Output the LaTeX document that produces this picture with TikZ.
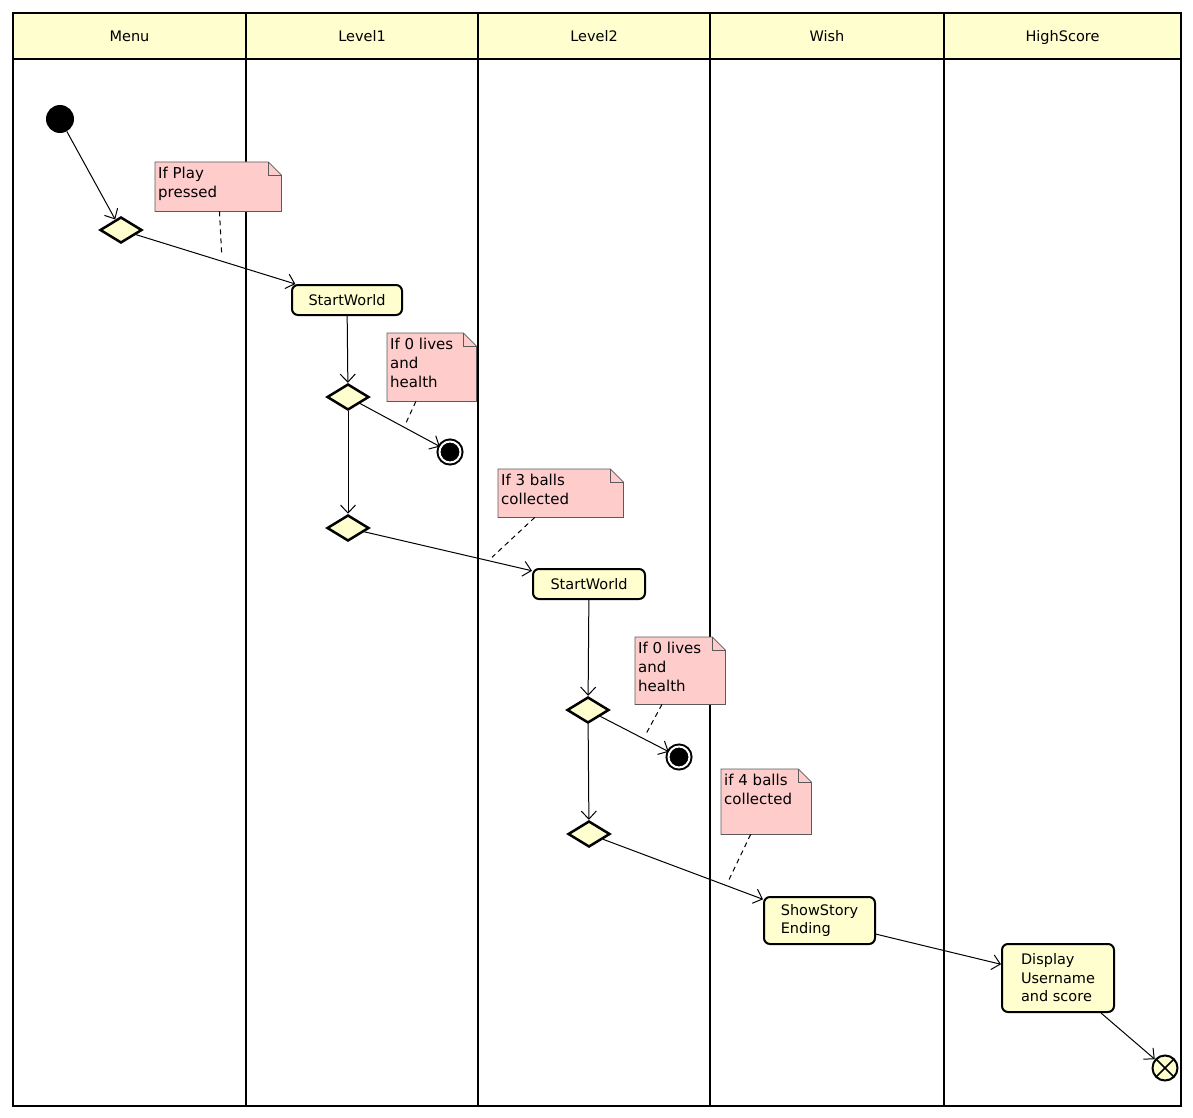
\documentclass[tikz,border=0pt]{standalone}
\usepackage{fontspec}
\setmainfont{DejaVu Sans}
\usetikzlibrary{shapes.geometric,arrows.meta}
\definecolor{umlyellow}{RGB}{254,254,206}
\definecolor{notepink}{RGB}{255,204,204}
\definecolor{noteline}{RGB}{90,90,90}

% note with a folded corner: name, top left, width, height, text
\newcommand\umlnote[5]{%
  \node[notearea,minimum width=#3,minimum height=#4] (#1) at (#2) {};
  \filldraw[notepaper] (#1.north west) -- ([xshift=-13pt]#1.north east) -- ([yshift=-13pt]#1.north east) -- (#1.south east) -- (#1.south west) -- cycle;
  \draw[notepaper,fill=none] ([xshift=-13pt]#1.north east) |- ([yshift=-13pt]#1.north east);
  \node[notetext] at (#1.north west) {#5};
}

\begin{document}
\begin{tikzpicture}[x=1pt,y=-1pt,
  every node/.style={font=\fontsize{14.5}{18.5}\selectfont},
  lane/.style={line width=2.5pt},
  lanename/.style={anchor=base},
  startnode/.style={circle,fill=black,minimum size=28pt,inner sep=0pt},
  endnode/.style={circle,fill=black,draw=black,line width=2pt,double=white,double distance=2pt,minimum size=21pt,inner sep=0pt},
  flowend/.style={circle,fill=umlyellow,draw,line width=2pt,minimum size=25pt,inner sep=0pt,
    path picture={\draw[line width=1.6pt] (path picture bounding box.north west) -- (path picture bounding box.south east)
      (path picture bounding box.north east) -- (path picture bounding box.south west);}},
  decision/.style={diamond,draw,fill=umlyellow,line width=2.5pt,minimum width=42pt,minimum height=26pt,inner sep=0pt},
  action/.style={rectangle,rounded corners=6pt,draw,fill=umlyellow,line width=2pt,align=left,minimum height=30pt},
  notearea/.style={rectangle,inner sep=0pt,anchor=north west},
  notepaper/.style={fill=notepink,draw=noteline,line width=0.8pt},
  notetext/.style={anchor=north west,align=left,inner xsep=3pt,inner ysep=5pt,font=\fontsize{15}{19}\selectfont},
  flow/.style={line width=1pt,-{Straight Barb[length=8pt,width=15pt]}},
  notelink/.style={line width=1pt,dash pattern=on 5pt off 4pt,shorten >=5pt}]

\useasboundingbox (0,0) rectangle (1193,1118);

% swimlanes
\fill[umlyellow] (13,13) rectangle (1181,59);
\draw[lane] (13,13) rectangle (1181,1106);
\draw[lane] (13,59) -- (1181,59);
\foreach \x in {246,478,710,944} \draw[lane] (\x,13) -- (\x,1106);
\foreach \x/\lname in {129.5/Menu,362/Level1,594/Level2,827/Wish,1062.5/HighScore}
  \node[lanename] (\lname) at (\x,42) {\lname};

% notes
\umlnote{n1}{155,162}{126pt}{49pt}{If Play\\pressed}
\umlnote{n2}{387,333}{89pt}{68pt}{If 0 lives\\and\\health}
\umlnote{n3}{498,469}{125pt}{48pt}{If 3 balls\\collected}
\umlnote{n4}{635,637}{90pt}{67pt}{If 0 lives\\and\\health}
\umlnote{n5}{721,769}{90pt}{65pt}{if 4 balls\\collected}

% Menu
\node[startnode] (start) at (60,119) {};
\node[decision] (dec1) at (121,230) {};

% Level1
\node[action,minimum width=110pt] (sw1) at (347,300) {StartWorld};
\node[decision] (dec2) at (348,397) {};
\node[endnode] (end1) at (450,452) {};
\node[decision] (dec3) at (348,528) {};

% Level2
\node[action,minimum width=112pt] (sw2) at (589,584) {StartWorld};
\node[decision] (dec4) at (588,710) {};
\node[endnode] (end2) at (679,757) {};
\node[decision] (dec5) at (589,834) {};

% Wish
\node[action,minimum width=111pt,minimum height=47pt] (story) at (819.5,920.5) {ShowStory\\Ending};

% HighScore
\node[action,minimum width=112pt,minimum height=68pt] (score) at (1058,978) {Display\\Username\\and score};
\node[flowend] (stop) at (1165,1068) {};

% flows
\draw[flow] (start) -- (dec1);
\draw[flow] (dec1) -- coordinate[pos=0.54] (on1) (sw1);
\draw[flow] (sw1) -- (dec2);
\draw[flow] (dec2) -- coordinate[pos=0.55] (on2) (end1);
\draw[flow] (dec2) -- (dec3);
\draw[flow] (dec3) -- coordinate[pos=0.74] (on3) (sw2);
\draw[flow] (sw2) -- (dec4);
\draw[flow] (dec4) -- coordinate[pos=0.63] (on4) (end2);
\draw[flow] (dec4) -- (dec5);
\draw[flow] (dec5) -- coordinate[pos=0.77] (on5) (story);
\draw[flow] (story) -- (score);
\draw[flow] ([xshift=-14pt]score.south east) -- (stop);

% note links
\draw[notelink] (n1) -- (on1);
\draw[notelink] (n2) -- (on2);
\draw[notelink] (n3) -- (on3);
\draw[notelink] (n4) -- (on4);
\draw[notelink] (n5) -- (on5);

\end{tikzpicture}
\end{document}
